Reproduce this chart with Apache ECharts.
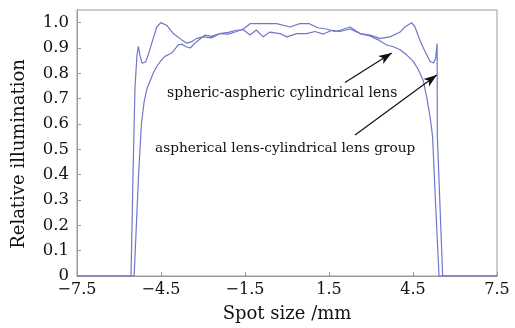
<!DOCTYPE html>
<html>
<head>
<meta charset="utf-8">
<script src="https://cdn.jsdelivr.net/npm/echarts@6/dist/echarts.min.js"></script>
<style>
  html, body { margin: 0; padding: 0; background: #fff; }
  #chart { width: 515px; height: 328px; }
</style>
</head>
<body>
<div id="chart"></div>
<script>
// spheric-aspheric cylindrical lens (rounded fall-off)
const xA = [-7.5, -5.46, -5.3, -5.2, -5.1, -5.0, -4.89, -4.78, -4.65, -4.5, -4.36, -4.12, -3.88, -3.75, -3.6, -3.46,
  -3.23, -2.93, -2.7, -2.4, -2.1, -1.8, -1.56, -1.32, -1.1, -0.85, -0.61, -0.25, -0.01, 0.35, 0.7, 1.0, 1.3,
  1.6, 1.89, 2.25, 2.61, 2.96, 3.3, 3.56, 3.8, 4.04, 4.27, 4.51, 4.69, 4.87, 4.99, 5.11, 5.2, 5.3, 5.43, 7.5];
const yA = [0, 0, 0.4, 0.6, 0.69, 0.74, 0.77, 0.8, 0.828, 0.85, 0.867, 0.88, 0.912, 0.915, 0.905, 0.9,
  0.925, 0.951, 0.946, 0.957, 0.962, 0.97, 0.972, 0.951, 0.971, 0.944, 0.963, 0.957, 0.944, 0.957, 0.957, 0.965, 0.955,
  0.97, 0.965, 0.975, 0.957, 0.948, 0.93, 0.912, 0.905, 0.893, 0.873, 0.847, 0.815, 0.77, 0.705, 0.628, 0.55, 0.3, 0, 0];

// aspherical lens-cylindrical lens group (edge horns)
const xB = [-7.5, -5.57, -5.5, -5.43, -5.36, -5.31, -5.25, -5.18, -5.13, -5.05, -4.95, -4.83, -4.65, -4.51, -4.3, -4.06,
  -3.76, -3.58, -3.4, -3.23, -2.99, -2.7, -2.39, -2.1, -1.8, -1.56, -1.32, -0.9, -0.37, 0.11, 0.46, 0.8, 1.1, 1.4,
  1.7, 1.89, 2.25, 2.61, 2.96, 3.32, 3.68, 4.04, 4.21, 4.45, 4.57, 4.75, 4.93, 5.11, 5.23, 5.31, 5.36, 5.37, 5.56, 7.5];
const yB = [0, 0, 0.4, 0.74, 0.87, 0.906, 0.87, 0.84, 0.834, 0.845, 0.875, 0.919, 0.983, 1.0, 0.99, 0.957,
  0.932, 0.919, 0.925, 0.938, 0.944, 0.94, 0.957, 0.955, 0.965, 0.975, 0.996, 0.996, 0.996, 0.983, 0.996, 0.996, 0.98, 0.975,
  0.965, 0.97, 0.983, 0.957, 0.951, 0.938, 0.944, 0.963, 0.983, 1.0, 0.983, 0.93, 0.886, 0.847, 0.841, 0.86, 0.918, 0.55, 0, 0];

const seriesNames = ['spheric-aspheric cylindrical lens', 'aspherical lens-cylindrical lens group'];
// arrow [from, to] in data coordinates
const arrowA = [[2.07, 0.764], [3.74, 0.88]];
const arrowB = [[2.43, 0.557], [5.35, 0.793]];

const zip = (xs, ys) => xs.map((x, i) => [x, ys[i]]);
const serif = 'DejaVu Serif';
const lineColor = '#7077c8';

const chart = echarts.init(document.getElementById('chart'));
chart.setOption({
  animation: false,
  grid: { left: 77, right: 18, top: 10, bottom: 46, show: true, borderColor: '#9a9a9a', borderWidth: 1 },
  xAxis: {
    type: 'value', min: -7.5, max: 7.5, interval: 3,
    name: 'Spot size /mm', nameLocation: 'middle', nameGap: 29,
    nameTextStyle: { fontFamily: serif, fontSize: 18, color: '#111' },
    axisLine: { show: true, onZero: false, lineStyle: { color: '#9a9a9a' } },
    axisTick: { show: true, inside: true, length: 4, lineStyle: { color: '#9a9a9a' } },
    splitLine: { show: false },
    axisLabel: {
      fontFamily: serif, fontSize: 16, color: '#111', margin: 6,
      formatter: v => (v < 0 ? '\u2212' : '') + Math.abs(v).toFixed(1)
    }
  },
  yAxis: {
    type: 'value', min: 0, max: 1.05, interval: 0.1,
    name: 'Relative illumination', nameLocation: 'middle', nameGap: 49, nameRotate: 90,
    nameTextStyle: { fontFamily: serif, fontSize: 18, color: '#111', padding: [0, 22, 0, 0] },
    axisLine: { show: true, onZero: false, lineStyle: { color: '#9a9a9a' } },
    axisTick: { show: true, inside: true, length: 4, lineStyle: { color: '#9a9a9a' } },
    splitLine: { show: false },
    axisLabel: {
      fontFamily: serif, fontSize: 16.5, color: '#111', margin: 8, showMaxLabel: false,
      formatter: v => (v === 0 ? '0' : v.toFixed(1))
    }
  },
  series: [
    {
      name: seriesNames[0], type: 'line', data: zip(xA, yA), showSymbol: false,
      lineStyle: { color: lineColor, width: 1.2 },
      markLine: {
        silent: true, symbol: ['none', 'arrow'], symbolSize: [7, 13],
        lineStyle: { color: '#111', width: 1.2, type: 'solid' }, label: { show: false },
        data: [[{ coord: arrowA[0] }, { coord: arrowA[1] }]]
      }
    },
    {
      name: seriesNames[1], type: 'line', data: zip(xB, yB), showSymbol: false,
      lineStyle: { color: lineColor, width: 1.2 },
      markLine: {
        silent: true, symbol: ['none', 'arrow'], symbolSize: [7, 13],
        lineStyle: { color: '#111', width: 1.2, type: 'solid' }, label: { show: false },
        data: [[{ coord: arrowB[0] }, { coord: arrowB[1] }]]
      }
    }
  ],
  graphic: [
    { type: 'text', left: 167, top: 86, style: { text: seriesNames[0], font: '14px "DejaVu Serif"', fill: '#111' } },
    { type: 'text', left: 155, top: 141, style: { text: seriesNames[1], font: '13.7px "DejaVu Serif"', fill: '#111' } }
  ]
});
</script>
</body>
</html>
